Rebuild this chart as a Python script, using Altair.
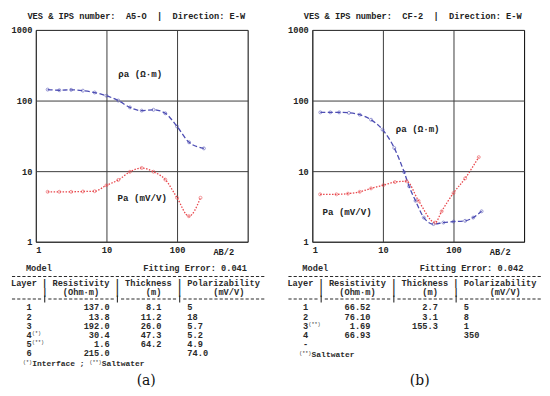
import altair as alt
import pandas as pd

# ---------------- data: panel (a) ----------------
a_title = "VES & IPS number:  A5-O  |  Direction: E-W"
a_rho_ab2 = [1.47, 2.15, 3.16, 4.64, 6.81, 10.0, 14.7, 21.5, 31.6, 46.4, 68.1, 100.0, 148.0, 240.0]
a_rho = [143, 140, 142, 138, 130, 117, 100, 80, 72, 74, 66, 43, 25.6, 21]
a_pa_ab2 = [1.47, 2.15, 3.16, 4.64, 6.81, 10.0, 14.7, 21.5, 31.6, 46.4, 68.1, 100.0, 147.0, 215.0]
a_pa = [5.1, 5.1, 5.1, 5.15, 5.2, 6.3, 7.5, 9.8, 11.1, 9.8, 7.6, 4.2, 2.3, 4.2]
a_fit = "Fitting Error: 0.041"
a_layers = ["1", "2", "3", "4", "5", "6"]
a_sups = ["", "", "", "(*)", "(**)", ""]
a_res = ["137.0", "13.8", "192.0", "30.4", "1.6", "215.0"]
a_thk = ["8.1", "11.2", "26.0", "47.3", "64.2", ""]
a_pol = ["5", "18", "5.7", "5.2", "4.9", "74.0"]
a_notes = [("(*)", "Interface ;"), ("(**)", "Saltwater")]

# ---------------- data: panel (b) ----------------
b_title = "VES & IPS number:  CF-2  |  Direction: E-W"
b_rho_ab2 = [1.3, 1.8, 2.4, 3.3, 4.7, 6.8, 9.9, 14.5, 20.0, 23.5, 29.0, 38.0, 52.0, 72.0, 100.0, 146.0, 190.0, 250.0]
b_rho = [68, 68, 68, 67, 63, 53.5, 38.7, 21.3, 9.7, 6.1, 3.8, 2.2, 1.78, 1.87, 1.93, 1.98, 2.2, 2.7]
b_pa_ab2 = [1.29, 2.2, 3.2, 4.7, 6.8, 10.2, 14.8, 21.6, 32.0, 55.0, 68.0, 100.0, 146.0, 228.0]
b_pa = [4.7, 4.7, 4.8, 5.1, 5.7, 6.35, 7.0, 7.2, 3.8, 1.87, 2.7, 4.9, 7.9, 15.8]
b_fit = "Fitting Error: 0.042"
b_layers = ["1", "2", "3", "4", "-"]
b_sups = ["", "", "(**)", "", ""]
b_res = ["66.52", "76.10", "1.69", "66.93", ""]
b_thk = ["2.7", "3.1", "155.3", "", ""]
b_pol = ["5", "8", "1", "350", ""]
b_notes = [("(**)", "Saltwater")]

axis_ticks_x = [1, 10, 100]
axis_ticks_y = [1, 10, 100, 1000]
rho_label = "ρa (Ω·m)"
pa_label = "Pa (mV/V)"
x_label = "AB/2"
header1 = "Layer | Resistivity | Thickness | Polarizability"
header2 = "      |   (Ohm·m)   |     (m)   |      (mV/V)"
sep_pipes = [6, 20, 32]   # table column separators (character columns)
table_cols = 49

# ---------------- styling ----------------
W = H = 213
MONO = "Liberation Mono"
FS = 8.7
CW = 0.6 * FS
BLUE = "#4d4db3"
RED = "#e8474c"
TXT = "#2a2a2a"
X0 = -25  # left of table text, relative to plot origin


def txt(s, x, y, size=FS, weight="bold", align="left", font=MONO, color=TXT):
    # leading blanks are trimmed by the renderer: shift the text instead
    n = len(s) - len(s.lstrip(" "))
    if align == "left" and n:
        x = x + n * 0.6 * size
    s = s.strip(" ").replace(" ", "\u00a0")
    return alt.Chart(pd.DataFrame({"t": [s]})).mark_text(
        font=font, fontSize=size, fontWeight=weight, align=align,
        baseline="middle", color=color
    ).encode(text="t:N", x=alt.value(x), y=alt.value(y))


def dash_rule(c0, c1, y):
    # a dashed line of typed '-' characters, columns c0..c1
    return alt.Chart(pd.DataFrame({"k": [0]})).mark_rule(
        color=TXT, strokeWidth=1.1, strokeDash=[3.2, CW - 3.2]
    ).encode(x=alt.value(X0 + c0 * CW + 1.0), x2=alt.value(X0 + (c1 + 1) * CW - 1.0),
             y=alt.value(y))


def pipe_rule(c, y):
    return alt.Chart(pd.DataFrame({"k": [0]})).mark_rule(
        color=TXT, strokeWidth=1.1
    ).encode(x=alt.value(X0 + (c + 0.5) * CW), y=alt.value(y - 3.5), y2=alt.value(y + 3.5))


def make_cells(res, thk, pol, res_end):
    cells = [" "] * table_cols

    def put(s, start):
        for k, ch in enumerate(s):
            cells[start + k] = ch
    if res:
        put(res, res_end - len(res) + 1)
    if thk:
        put(thk, 28 - len(thk) + 1)
    if pol:
        put(pol, 34)
    return "".join(cells).rstrip()


def panel(title, rho_ab2, rho, pa_ab2, pa, rho_xy, pa_xy, fit, layers, sups,
          res, thk, pol, res_end, notes, notes_row, tag, tag_x):
    x_enc = alt.X("ab2:Q", scale=alt.Scale(type="log", domain=[1, 1000], nice=False),
                  axis=alt.Axis(values=axis_ticks_x, format="d", title=None, grid=True,
                                ticks=False, domain=False, labelFlush=True, labelPadding=4,
                                gridColor="#3c3c3c", gridWidth=1))
    y_enc = alt.Y("v:Q", scale=alt.Scale(type="log", domain=[1, 1000], nice=False),
                  axis=alt.Axis(values=axis_ticks_y, format="d", title=None, grid=True,
                                ticks=False, domain=False, labelFlush=False, labelPadding=4,
                                gridColor="#3c3c3c", gridWidth=1))
    dr = pd.DataFrame({"ab2": rho_ab2, "v": rho})
    dp = pd.DataFrame({"ab2": pa_ab2, "v": pa})
    layers_list = [
        alt.Chart(dr).mark_line(color=BLUE, strokeDash=[5, 2.5], strokeWidth=1.3,
                                interpolate="monotone").encode(x=x_enc, y=y_enc),
        alt.Chart(dr).mark_point(shape="circle", size=9, color=BLUE, strokeWidth=0.8,
                                 filled=False).encode(x=x_enc, y=y_enc),
        alt.Chart(dp).mark_line(color=RED, strokeDash=[1.5, 1.5], strokeWidth=1.3,
                                interpolate="monotone").encode(x=x_enc, y=y_enc),
        alt.Chart(dp).mark_point(shape="circle", size=9, color=RED, strokeWidth=0.8,
                                 filled=False).encode(x=x_enc, y=y_enc),
        txt(title, 101, -14, align="center", color="#222"),
        txt(rho_label, rho_xy[0], rho_xy[1], size=9.2, align="center", color="#222"),
        txt(pa_label, pa_xy[0], pa_xy[1], size=9.2, align="center", color="#222"),
        txt(x_label, 189, H + 10, align="center", color="#222"),
        txt("Model", -10, 239),
        txt(fit, 108, 239),
        dash_rule(0, table_cols - 1, 248),
        txt(header1, X0, 254.3),
        txt(header2, X0, 263.6),
    ]
    # separator line under the header: dashes broken by column pipes
    start = 0
    for c in sep_pipes + [table_cols]:
        layers_list.append(dash_rule(start, c - 1, 270.5))
        if c < table_cols:
            layers_list.append(pipe_rule(c, 270.5))
        start = c + 1
    for i, (ly, sp, r, t, p) in enumerate(zip(layers, sups, res, thk, pol)):
        yy = 279 + 9.2 * i
        layers_list.append(txt(ly, X0 + 3 * CW, yy))
        rest = make_cells(r, t, p, res_end)
        if rest.strip():
            layers_list.append(txt(rest, X0, yy))
        if sp:
            layers_list.append(txt(sp, X0 + 4 * CW + 0.3, yy - 2, size=5, weight="normal"))
    # footnotes
    yy = 279 + 9.2 * notes_row + 1.5
    xx = -13
    for sp, word in notes:
        layers_list.append(txt(sp, xx, yy - 2, size=5, weight="normal"))
        xx += len(sp) * 3.0 + 0.3
        layers_list.append(txt(word, xx, yy, size=8))
        xx += (len(word) + 1) * 4.8
    layers_list.append(txt(tag, tag_x, 353, size=14, weight="normal", align="center",
                           font="DejaVu Serif", color="#111"))
    return alt.layer(*layers_list).properties(width=W, height=H)


pa_ = panel(a_title, a_rho_ab2, a_rho, a_pa_ab2, a_pa, (105, 44), (107, 169), a_fit,
            a_layers, a_sups, a_res, a_thk, a_pol, 18, a_notes, 6, "(a)", 111)
pb_ = panel(b_title, b_rho_ab2, b_rho, b_pa_ab2, b_pa, (106, 100), (35, 183), b_fit,
            b_layers, b_sups, b_res, b_thk, b_pol, 15, b_notes, 5, "(b)", 108)

chart = alt.hconcat(pa_, pb_, spacing=21).properties(
    padding={"left": 2, "top": 2, "right": 0, "bottom": 0}
).configure_view(stroke="black", strokeWidth=1).configure_axis(
    labelFont=MONO, labelFontSize=FS, labelFontWeight="bold", labelColor="#222"
)

chart.save("out.html", embed_options={"renderer": "svg", "actions": False})
